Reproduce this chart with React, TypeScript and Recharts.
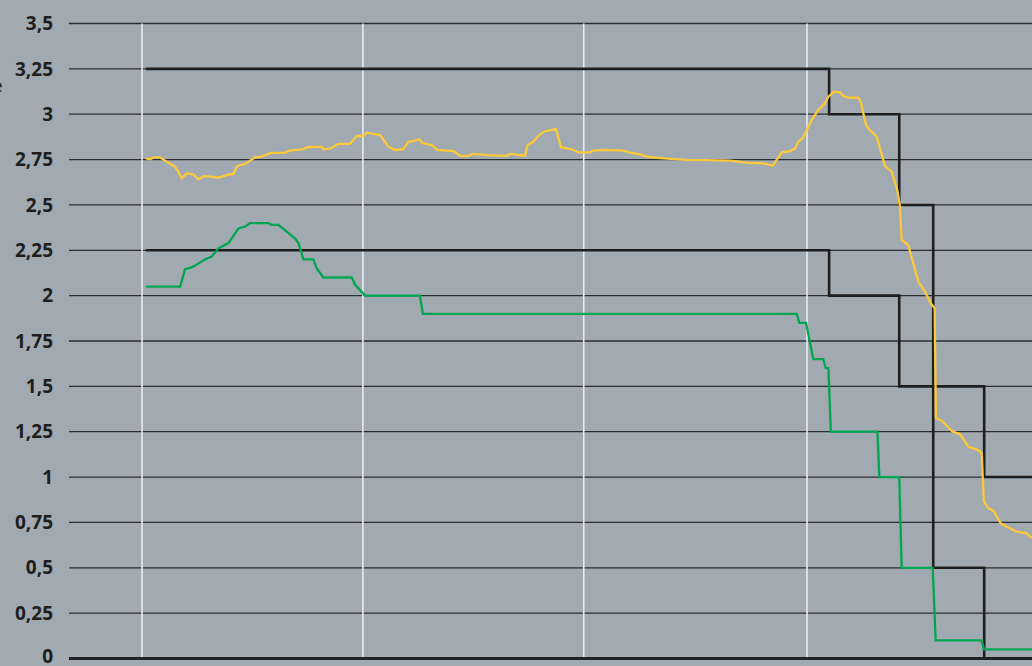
import { CartesianGrid, Line, LineChart, ReferenceLine, XAxis, YAxis } from "recharts";

// x = days since 1 January, y = percent
const yTicks = [0, 0.25, 0.5, 0.75, 1, 1.25, 1.5, 1.75, 2, 2.25, 2.5, 2.75, 3, 3.25, 3.5];
const quarterDays = [0, 91, 182, 274];

const upperBand: [number, number][] = [
    [1.6, 3.25], [283.1, 3.0], [312, 2.5], [326, 1.5], [347, 1.0], [366.7, 1.0],
];
const lowerBand: [number, number][] = [
    [1.6, 2.25], [283.1, 2.0], [312, 1.5], [326, 0.5], [347, 0], [366.7, 0],
];

const yellowLine: [number, number][] = [
    [1.6, 2.757], [3.3, 2.751], [4.7, 2.762], [7.4, 2.762], [9.5, 2.744], [13.6, 2.71],
    [15.0, 2.683], [16.4, 2.647], [18.4, 2.674], [21.1, 2.669], [23.2, 2.641], [25.5, 2.659],
    [28.7, 2.656], [31.4, 2.65], [36.3, 2.669], [37.6, 2.669], [39.3, 2.715], [42.4, 2.726],
    [46.6, 2.762], [49.3, 2.766], [52.7, 2.785], [58.9, 2.788], [61.0, 2.799], [66.5, 2.807],
    [67.9, 2.818], [74.0, 2.821], [74.7, 2.807], [77.5, 2.81], [80.9, 2.836], [85.7, 2.836],
    [88.5, 2.88], [91.2, 2.88], [92.6, 2.898], [98.1, 2.885], [101.5, 2.821], [104.2, 2.803],
    [107.7, 2.807], [109.7, 2.848], [112.5, 2.854], [114.3, 2.862], [115.7, 2.84], [119.4, 2.83],
    [121.7, 2.803], [128.3, 2.797], [131.0, 2.771], [134.4, 2.77], [136.5, 2.781], [142.0, 2.775],
    [150.3, 2.77], [151.6, 2.781], [157.8, 2.771], [158.9, 2.83], [161.2, 2.848], [162.9, 2.876],
    [165.6, 2.904], [170.6, 2.918], [172.6, 2.818], [177.0, 2.807], [179.8, 2.79], [184.6, 2.79],
    [186.0, 2.799], [190.1, 2.803], [198.3, 2.799], [201.1, 2.788], [205.2, 2.779], [208.0, 2.766],
    [212.1, 2.76], [216.2, 2.755], [224.4, 2.748], [232.7, 2.747], [242.3, 2.744], [249.2, 2.733],
    [256.0, 2.729], [259.9, 2.716], [263.6, 2.79], [267.1, 2.797], [269.1, 2.812], [270.4, 2.848],
    [272.5, 2.873], [275.9, 2.968], [278.6, 3.023], [281.4, 3.06], [282.8, 3.097], [285.1, 3.124],
    [287.6, 3.12], [289.0, 3.1], [291.0, 3.091], [295.1, 3.091], [296.1, 3.069], [298.3, 2.94],
    [299.9, 2.913], [302.7, 2.876], [306.1, 2.715], [308.9, 2.683], [311.2, 2.582], [312.3, 2.49],
    [313.0, 2.307], [315.7, 2.279], [319.9, 2.077], [322.6, 2.022], [325.0, 1.958], [326.6, 1.93],
    [327.1, 1.324], [329.5, 1.311], [334.0, 1.25], [337.0, 1.237], [340.5, 1.167], [344.6, 1.149],
    [346.0, 1.131], [346.4, 1.002], [346.9, 0.864], [348.7, 0.828], [350.8, 0.815], [353.8, 0.745],
    [356.3, 0.726], [360.4, 0.699], [364.5, 0.69], [366.6, 0.663],
];

const greenLine: [number, number][] = [
    [1.6, 2.05], [15.7, 2.05], [17.7, 2.145], [21.1, 2.16], [26.0, 2.2], [28.7, 2.215],
    [31.4, 2.26], [35.6, 2.29], [39.7, 2.37], [42.4, 2.38], [44.5, 2.4], [52.0, 2.4],
    [53.4, 2.39], [56.2, 2.39], [63.0, 2.316], [64.4, 2.29], [66.5, 2.2], [70.6, 2.2],
    [72.0, 2.15], [74.7, 2.1], [86.4, 2.1], [87.8, 2.06], [91.9, 2.0], [114.5, 2.0],
    [115.7, 1.9], [269.8, 1.9], [270.8, 1.85], [273.6, 1.85], [276.6, 1.65], [280.7, 1.65],
    [281.7, 1.6], [282.8, 1.6], [283.8, 1.25], [303.0, 1.25], [303.8, 1.0], [312.0, 1.0],
    [313.0, 0.5], [325.8, 0.5], [327.0, 0.1], [346.0, 0.1], [346.9, 0.05], [366.7, 0.05],
];

const toRows = (pts: [number, number][]) => pts.map(([d, v]) => ({ d, v }));

const fmt = (v: number) => String(v).replace(".", ",");

const RateTick = (props: any) => {
    const { x, y, payload } = props;
    // the bottom label sits a little above its gridline so it stays inside the frame
    const shift = payload.value === 0 ? -2 : 0;
    return <text x={x} y={y + shift} dy="0.35em" textAnchor="end" fill="#1e1e1e" fontSize={19} fontWeight={700} fontFamily="Open Sans">
        {fmt(payload.value)}
    </text>
}

const App = () => {
    return <div style={{ position: "fixed", left: 0, top: 0, width: 1032, height: 666, background: "#a0aab0", overflow: "hidden" }}>
        <LineChart width={1032} height={666} margin={{ top: 23.5, right: 0, bottom: 7.5, left: 0 }}>
            <CartesianGrid horizontal vertical={false} stroke="#2a2e32" strokeWidth={1.3} />
            <XAxis dataKey="d" type="number" domain={[-30.1, 366.7]} allowDataOverflow hide />
            <YAxis
                type="number"
                domain={[0, 3.5]}
                ticks={yTicks}
                interval={0}
                width={69}
                axisLine={false}
                tickLine={false}
                tickSize={8}
                tickMargin={8}
                tick={<RateTick />}
            />
            {quarterDays.map(q => <ReferenceLine key={q} x={q} stroke="#e8ebed" strokeWidth={1.6} />)}
            <ReferenceLine y={0} stroke="#222" strokeWidth={3} />
            <Line data={toRows(upperBand)} dataKey="v" type="stepAfter" stroke="#1e1e1e" strokeWidth={2.6} dot={false} isAnimationActive={false} />
            <Line data={toRows(lowerBand)} dataKey="v" type="stepAfter" stroke="#1e1e1e" strokeWidth={2.6} dot={false} isAnimationActive={false} />
            <Line data={toRows(yellowLine)} dataKey="v" type="linear" stroke="#fdc93a" strokeWidth={2.3} dot={false} isAnimationActive={false} />
            <Line data={toRows(greenLine)} dataKey="v" type="linear" stroke="#00a651" strokeWidth={2.3} dot={false} isAnimationActive={false} />
        </LineChart>
        <span style={{ position: "absolute", left: -8, top: 72, fontFamily: "Open Sans", fontSize: 19, color: "#222" }}>e</span>
    </div>
}

export default App;
